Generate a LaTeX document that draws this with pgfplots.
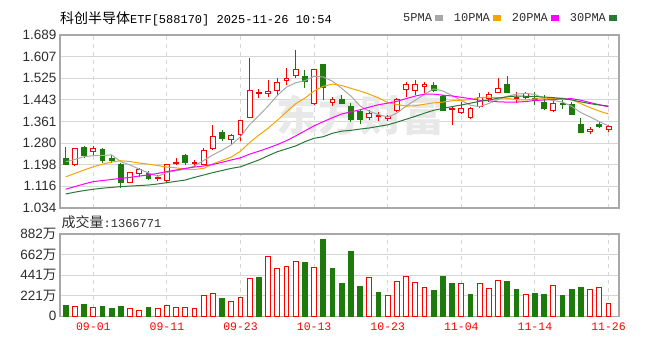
\documentclass[border=0pt]{standalone}
\usepackage{pgfplots}
\pgfplotsset{compat=1.18}
\usepackage{pgfplotstable}
\usepackage{fontspec}
\setmainfont{Liberation Sans}
\newfontfamily\cjk{Noto Sans CJK SC}
\newfontfamily\mono{Liberation Mono}
\definecolor{kred}{RGB}{255,0,0}
\definecolor{kgreen}{RGB}{30,122,12}
\definecolor{ma5c}{RGB}{168,168,168}
\definecolor{ma10c}{RGB}{245,165,0}
\definecolor{ma20c}{RGB}{255,0,255}
\definecolor{ma30c}{RGB}{40,120,55}
\definecolor{gridc}{RGB}{214,214,214}
\definecolor{boxc}{RGB}{168,168,168}
\definecolor{labc}{RGB}{45,45,45}
\definecolor{wmc}{RGB}{232,232,232}

% rising candle: index, low, open, close, high
\newcommand{\up}[5]{%
  \pgfmathsetmacro\xa{#1-0.27}\pgfmathsetmacro\xb{#1+0.27}%
  \addplot[forget plot, draw=kred, line width=1bp, mark=none] coordinates {(#1,#2) (#1,#5)};
  \addplot[forget plot, draw=kred, fill=white, line width=1bp, mark=none] coordinates {(\xa,#3) (\xb,#3) (\xb,#4) (\xa,#4)} -- cycle;}
% falling candle: index, low, close, open, high
\newcommand{\dn}[5]{%
  \pgfmathsetmacro\xa{#1-0.27}\pgfmathsetmacro\xb{#1+0.27}%
  \addplot[forget plot, draw=kgreen, line width=1bp, mark=none] coordinates {(#1,#2) (#1,#5)};
  \addplot[forget plot, draw=kgreen, fill=kgreen, line width=1bp, mark=none] coordinates {(\xa,#3) (\xb,#3) (\xb,#4) (\xa,#4)} -- cycle;}

\pgfplotstableread{
i ma5 ma10 ma20 ma30
0 1.209 1.152 1.105 1.087
1 1.218 1.165 1.115 1.094
2 1.228 1.178 1.125 1.100
3 1.232 1.190 1.134 1.105
4 1.233 1.200 1.138 1.109
5 1.235 1.208 1.142 1.112
6 1.209 1.213 1.146 1.115
7 1.197 1.210 1.150 1.117
8 1.181 1.204 1.155 1.119
9 1.167 1.200 1.159 1.121
10 1.154 1.195 1.165 1.125
11 1.168 1.189 1.172 1.130
12 1.175 1.186 1.178 1.135
13 1.181 1.181 1.184 1.140
14 1.193 1.180 1.189 1.150
15 1.214 1.184 1.193 1.159
16 1.235 1.201 1.199 1.168
17 1.253 1.214 1.207 1.176
18 1.273 1.227 1.216 1.184
19 1.304 1.249 1.224 1.190
20 1.350 1.282 1.238 1.203
21 1.384 1.310 1.249 1.216
22 1.420 1.336 1.261 1.232
23 1.460 1.366 1.274 1.247
24 1.492 1.398 1.289 1.258
25 1.508 1.429 1.307 1.269
26 1.516 1.450 1.326 1.285
27 1.533 1.477 1.345 1.298
28 1.530 1.495 1.361 1.304
29 1.514 1.503 1.376 1.317
30 1.487 1.498 1.390 1.325
31 1.458 1.487 1.398 1.328
32 1.420 1.477 1.406 1.333
33 1.400 1.465 1.416 1.337
34 1.388 1.451 1.425 1.343
35 1.378 1.433 1.431 1.349
36 1.393 1.426 1.438 1.359
37 1.420 1.420 1.448 1.370
38 1.442 1.421 1.458 1.381
39 1.465 1.427 1.465 1.393
40 1.485 1.432 1.465 1.404
41 1.477 1.435 1.461 1.411
42 1.460 1.440 1.458 1.418
43 1.441 1.442 1.453 1.424
44 1.423 1.444 1.448 1.431
45 1.418 1.452 1.442 1.438
46 1.430 1.454 1.440 1.443
47 1.445 1.452 1.436 1.450
48 1.457 1.449 1.435 1.455
49 1.465 1.444 1.435 1.458
50 1.468 1.443 1.437 1.457
51 1.464 1.447 1.441 1.456
52 1.449 1.447 1.443 1.454
53 1.441 1.449 1.445 1.452
54 1.435 1.450 1.447 1.448
55 1.419 1.444 1.448 1.443
56 1.395 1.429 1.442 1.436
57 1.379 1.414 1.433 1.429
58 1.361 1.401 1.425 1.424
59 1.345 1.390 1.417 1.420
}\matab

\pgfplotstableread{
i v
1 104
3 89
7 79
8 64
10 79
11 118
12 93
13 93
14 79
15 218
16 243
18 154
19 204
20 407
22 640
23 511
24 536
25 590
27 525
33 411
35 218
36 375
37 425
38 361
39 307
43 347
45 347
46 297
47 386
50 232
53 332
57 286
58 307
59 137
}\volred

\pgfplotstableread{
i v
0 118
2 129
4 104
5 79
6 104
9 93
17 193
21 411
26 579
28 822
29 515
30 350
31 697
32 322
34 257
40 275
41 425
42 350
44 232
48 375
49 286
51 247
52 232
54 222
55 286
56 307
}\volgreen

\begin{document}
\begin{tikzpicture}
\begin{axis}[
  name=price, at={(0,0)}, anchor=south west, scale only axis,
  width=559bp, height=173bp,
  xmin=-0.62, xmax=60.14, ymin=1.034, ymax=1.689,
  ytick={1.034,1.116,1.198,1.280,1.361,1.443,1.525,1.607,1.689},
  yticklabels={1.034,1.116,1.198,1.280,1.361,1.443,1.525,1.607,1.689},
  xtick={3,11,19,27,35,43,51,59}, xticklabels={},
  major tick length=0,
  axis line style={draw=boxc, line width=1.5bp},
  ymajorgrids, xmajorgrids,
  y grid style={solid, draw=gridc, line width=1bp},
  x grid style={draw=gridc, line width=1bp, dash pattern=on 4bp off 4bp},
  yticklabel style={font=\fontsize{13.5bp}{15bp}\selectfont, text=labc},
  legend columns=4, legend plot pos=right,
  legend style={draw=none, fill=none, at={(0.6046,1.098)}, anchor=west,
    font=\mono\fontsize{12bp}{13bp}\selectfont, text=labc,
    /tikz/every odd column/.append style={column sep=1bp},
    /tikz/every even column/.append style={column sep=9bp}},
  legend image code/.code={\fill[#1] (0bp,-2.5bp) rectangle (7bp,2.5bp);},
]
\node[text=wmc, font=\cjk\bfseries\fontsize{42bp}{42bp}\selectfont] at (axis cs:32.0,1.386) {东方财富};
\dn{0}{1.195}{1.200}{1.222}{1.266}
\up{1}{1.193}{1.198}{1.259}{1.262}
\dn{2}{1.222}{1.232}{1.264}{1.267}
\up{3}{1.233}{1.248}{1.259}{1.269}
\dn{4}{1.205}{1.214}{1.255}{1.263}
\dn{5}{1.203}{1.212}{1.222}{1.236}
\dn{6}{1.110}{1.130}{1.197}{1.203}
\up{7}{1.130}{1.131}{1.168}{1.170}
\up{8}{1.150}{1.164}{1.180}{1.185}
\dn{9}{1.140}{1.145}{1.166}{1.175}
\up{10}{1.135}{1.145}{1.149}{1.158}
\up{11}{1.128}{1.138}{1.197}{1.200}
\up{12}{1.198}{1.202}{1.206}{1.222}
\dn{13}{1.198}{1.208}{1.232}{1.238}
\up{14}{1.191}{1.201}{1.207}{1.216}
\up{15}{1.195}{1.197}{1.250}{1.262}
\up{16}{1.254}{1.261}{1.303}{1.350}
\dn{17}{1.288}{1.296}{1.319}{1.330}
\up{18}{1.277}{1.292}{1.307}{1.316}
\up{19}{1.286}{1.314}{1.366}{1.368}
\up{20}{1.375}{1.378}{1.480}{1.601}
\up{21}{1.450}{1.466}{1.472}{1.484}
\up{22}{1.456}{1.468}{1.474}{1.519}
\up{23}{1.462}{1.479}{1.508}{1.525}
\up{24}{1.500}{1.517}{1.525}{1.563}
\up{25}{1.526}{1.536}{1.560}{1.632}
\dn{26}{1.490}{1.513}{1.533}{1.556}
\up{27}{1.425}{1.428}{1.560}{1.562}
\dn{28}{1.443}{1.490}{1.578}{1.580}
\up{29}{1.420}{1.432}{1.446}{1.455}
\dn{30}{1.426}{1.428}{1.446}{1.462}
\dn{31}{1.361}{1.368}{1.420}{1.430}
\dn{32}{1.352}{1.368}{1.398}{1.405}
\up{33}{1.368}{1.375}{1.392}{1.405}
\up{34}{1.362}{1.380}{1.385}{1.399}
\up{35}{1.362}{1.373}{1.379}{1.386}
\up{36}{1.396}{1.403}{1.443}{1.449}
\up{37}{1.456}{1.482}{1.500}{1.512}
\up{38}{1.462}{1.479}{1.503}{1.519}
\up{39}{1.468}{1.494}{1.500}{1.512}
\dn{40}{1.474}{1.479}{1.497}{1.512}
\dn{41}{1.404}{1.405}{1.458}{1.461}
\up{42}{1.348}{1.408}{1.412}{1.420}
\up{43}{1.390}{1.396}{1.410}{1.436}
\up{44}{1.372}{1.375}{1.411}{1.418}
\up{45}{1.411}{1.419}{1.452}{1.468}
\up{46}{1.437}{1.447}{1.464}{1.474}
\up{47}{1.468}{1.473}{1.487}{1.525}
\dn{48}{1.470}{1.471}{1.503}{1.534}
\up{49}{1.433}{1.448}{1.452}{1.474}
\up{50}{1.446}{1.454}{1.467}{1.474}
\dn{51}{1.424}{1.442}{1.447}{1.474}
\dn{52}{1.405}{1.412}{1.434}{1.462}
\up{53}{1.399}{1.403}{1.430}{1.449}
\dn{54}{1.408}{1.425}{1.430}{1.443}
\dn{55}{1.386}{1.387}{1.427}{1.434}
\dn{56}{1.320}{1.321}{1.351}{1.374}
\up{57}{1.313}{1.324}{1.333}{1.342}
\dn{58}{1.336}{1.341}{1.352}{1.361}
\up{59}{1.323}{1.330}{1.342}{1.348}
\addplot[color=ma5c, line width=1bp, mark=none] table[x=i, y=ma5] {\matab};
\addlegendentry{5PMA}
\addplot[color=ma10c, line width=1bp, mark=none] table[x=i, y=ma10] {\matab};
\addlegendentry{10PMA}
\addplot[color=ma20c, line width=1bp, mark=none] table[x=i, y=ma20] {\matab};
\addlegendentry{20PMA}
\addplot[color=ma30c, line width=1bp, mark=none] table[x=i, y=ma30] {\matab};
\addlegendentry{30PMA}
\end{axis}

\begin{axis}[
  name=vol, at={(0,-108.3bp)}, anchor=south west, scale only axis,
  width=559bp, height=82.3bp,
  xmin=-0.62, xmax=60.14, ymin=0, ymax=882,
  ytick={0,221,441,662,882},
  yticklabels={0,221{\cjk 万},441{\cjk 万},662{\cjk 万},882{\cjk 万}},
  xtick={3,11,19,27,35,43,51,59},
  xticklabels={09-01,09-11,09-23,10-13,10-23,11-04,11-14,11-26},
  major tick length=0,
  axis line style={draw=boxc, line width=1.5bp},
  ymajorgrids, xmajorgrids,
  y grid style={solid, draw=gridc, line width=1bp},
  x grid style={draw=gridc, line width=1bp, dash pattern=on 4bp off 4bp},
  yticklabel style={font=\fontsize{13.5bp}{15bp}\selectfont, text=labc},
  xticklabel style={font=\mono\fontsize{11.5bp}{13bp}\selectfont, text=kred, yshift=-3bp},
]
\addplot[ybar, bar width=0.52, bar shift=0pt, draw=kred, fill=white, line width=1bp] table[x=i, y=v] {\volred};
\addplot[ybar, bar width=0.52, bar shift=0pt, draw=kgreen, fill=kgreen, line width=1bp] table[x=i, y=v] {\volgreen};
\end{axis}

\node[anchor=base west, inner sep=0pt, text=black] at (0bp,184bp) {{\cjk\fontsize{14bp}{16bp}\selectfont 科创半导体}{\mono\fontsize{12bp}{14bp}\selectfont ETF[588170] 2025-11-26 10:54}};
\node[anchor=base west, inner sep=0pt, text=labc] at (1.5bp,-19.5bp) {{\cjk\fontsize{14bp}{16bp}\selectfont 成交量}{\mono\fontsize{12bp}{14bp}\selectfont :1366771}};
\path (-60bp,-142bp) rectangle (606bp,208bp);
\end{tikzpicture}
\end{document}
